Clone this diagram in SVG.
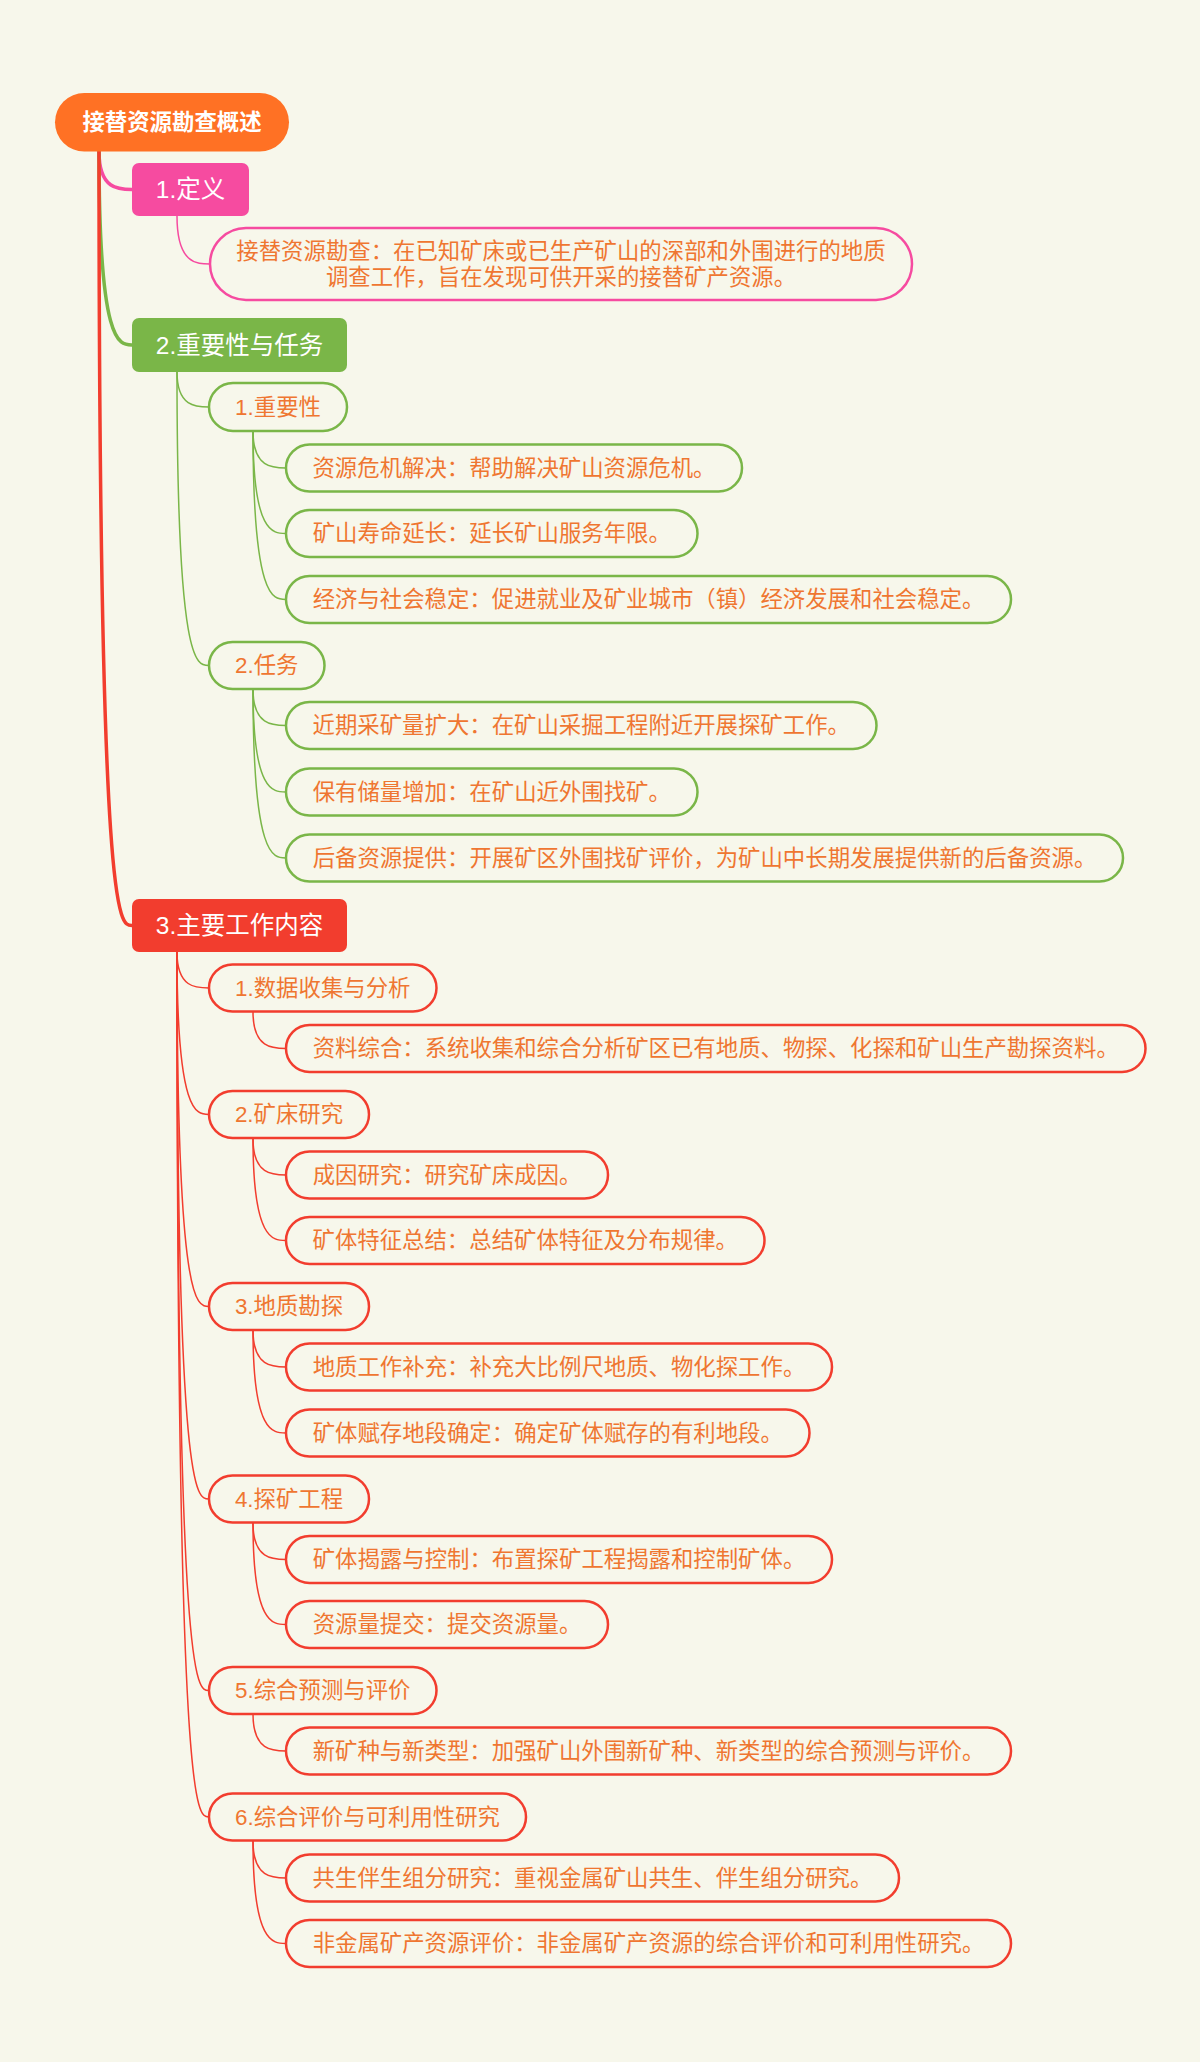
<svg xmlns="http://www.w3.org/2000/svg" width="1200" height="2062" viewBox="0 0 1200 2062">
<style>
text{font-family:"Liberation Sans","Noto Sans CJK SC",sans-serif;text-anchor:middle;dominant-baseline:central}
.root{font-size:22.4px;font-weight:bold;fill:#ffffff}
.l1t{font-size:24.5px;fill:#ffffff}
.t{font-size:22.4px;fill:#EF7631}
.pk{stroke:#F64BA0}
.gr{stroke:#7AB648}
.rd{stroke:#F23D2E}
.node{fill:#F7F7EB;stroke-width:2.5}
.thick{fill:none;stroke-width:3.5;stroke-linecap:round}
.thin{fill:none;stroke-width:1.5}
</style>
<rect x="0" y="0" width="1200" height="2062" fill="#F7F7EB"/>
<g id="connectors">
  <path class="thick pk" d="M99 151.5 C99 189.5 118.8 189.5 132 189.5"/>
  <path class="thick gr" d="M99 151.5 C99 345 118.8 345 132 345"/>
  <path class="thick rd" d="M99 151.5 C99 925.5 118.8 925.5 132 925.5"/>
  <path class="thin pk" d="M177 216 C177 264 196.8 264 210 264"/>
  <path class="thin gr" d="M177 372 C177 407 196.2 407 209 407"/>
  <path class="thin gr" d="M177 372 C177 665.5 196.2 665.5 209 665.5"/>
  <path class="thin gr" d="M253 431 C253 468 272.8 468 286 468"/>
  <path class="thin gr" d="M253 431 C253 533.5 272.8 533.5 286 533.5"/>
  <path class="thin gr" d="M253 431 C253 599.5 272.8 599.5 286 599.5"/>
  <path class="thin gr" d="M253 689 C253 725.5 272.8 725.5 286 725.5"/>
  <path class="thin gr" d="M253 689 C253 792 272.8 792 286 792"/>
  <path class="thin gr" d="M253 689 C253 858 272.8 858 286 858"/>
  <path class="thin rd" d="M177 952 C177 988 196.2 988 209 988"/>
  <path class="thin rd" d="M177 952 C177 1114.5 196.2 1114.5 209 1114.5"/>
  <path class="thin rd" d="M177 952 C177 1306.5 196.2 1306.5 209 1306.5"/>
  <path class="thin rd" d="M177 952 C177 1499 196.2 1499 209 1499"/>
  <path class="thin rd" d="M177 952 C177 1690.5 196.2 1690.5 209 1690.5"/>
  <path class="thin rd" d="M177 952 C177 1817 196.2 1817 209 1817"/>
  <path class="thin rd" d="M253 1012 C253 1048.5 272.8 1048.5 286 1048.5"/>
  <path class="thin rd" d="M253 1138.5 C253 1175 272.8 1175 286 1175"/>
  <path class="thin rd" d="M253 1138.5 C253 1240.5 272.8 1240.5 286 1240.5"/>
  <path class="thin rd" d="M253 1330 C253 1367 272.8 1367 286 1367"/>
  <path class="thin rd" d="M253 1330 C253 1433 272.8 1433 286 1433"/>
  <path class="thin rd" d="M253 1523 C253 1559.5 272.8 1559.5 286 1559.5"/>
  <path class="thin rd" d="M253 1523 C253 1624.5 272.8 1624.5 286 1624.5"/>
  <path class="thin rd" d="M253 1714 C253 1751 272.8 1751 286 1751"/>
  <path class="thin rd" d="M253 1841 C253 1878 272.8 1878 286 1878"/>
  <path class="thin rd" d="M253 1841 C253 1943.5 272.8 1943.5 286 1943.5"/>
</g>
<g id="root">
  <rect x="55" y="93" width="234" height="58.5" rx="29.25" fill="#FF7124"/>
  <text class="root" x="172" y="122.5">接替资源勘查概述</text>
</g>
<g id="n1">
  <rect x="132" y="163" width="117" height="53" rx="7" fill="#F64BA0"/>
  <text class="l1t" x="190.5" y="189.5">1.定义</text>
</g>
<g id="n1-def">
  <rect class="node pk" x="210" y="228" width="702" height="72" rx="36"/>
  <text class="t" x="561" y="251.5">接替资源勘查：在已知矿床或已生产矿山的深部和外围进行的地质</text>
  <text class="t" x="561" y="277">调查工作，旨在发现可供开采的接替矿产资源。</text>
</g>
<g id="n2">
  <rect x="132" y="318" width="215" height="54" rx="7" fill="#7AB648"/>
  <text class="l1t" x="239.5" y="345">2.重要性与任务</text>
</g>
<g id="n2-1">
  <rect class="node gr" x="209" y="383" width="138" height="48" rx="24"/>
  <text class="t" x="278" y="407">1.重要性</text>
</g>
<g id="n2-1-1">
  <rect class="node gr" x="286" y="444.5" width="456" height="47" rx="23.5"/>
  <text class="t" x="514" y="468">资源危机解决：帮助解决矿山资源危机。</text>
</g>
<g id="n2-1-2">
  <rect class="node gr" x="286" y="510" width="411.5" height="47" rx="23.5"/>
  <text class="t" x="491.75" y="533.5">矿山寿命延长：延长矿山服务年限。</text>
</g>
<g id="n2-1-3">
  <rect class="node gr" x="286" y="576" width="725" height="47" rx="23.5"/>
  <text class="t" x="648.5" y="599.5">经济与社会稳定：促进就业及矿业城市（镇）经济发展和社会稳定。</text>
</g>
<g id="n2-2">
  <rect class="node gr" x="209" y="642" width="115.5" height="47" rx="23.5"/>
  <text class="t" x="266.75" y="665.5">2.任务</text>
</g>
<g id="n2-2-1">
  <rect class="node gr" x="286" y="702" width="590.5" height="47" rx="23.5"/>
  <text class="t" x="581.25" y="725.5">近期采矿量扩大：在矿山采掘工程附近开展探矿工作。</text>
</g>
<g id="n2-2-2">
  <rect class="node gr" x="286" y="768.5" width="411.5" height="47" rx="23.5"/>
  <text class="t" x="491.75" y="792">保有储量增加：在矿山近外围找矿。</text>
</g>
<g id="n2-2-3">
  <rect class="node gr" x="286" y="834.5" width="837" height="47" rx="23.5"/>
  <text class="t" x="704.5" y="858">后备资源提供：开展矿区外围找矿评价，为矿山中长期发展提供新的后备资源。</text>
</g>
<g id="n3">
  <rect x="132" y="899" width="215" height="53" rx="7" fill="#F23D2E"/>
  <text class="l1t" x="239.5" y="925.5">3.主要工作内容</text>
</g>
<g id="n3-1">
  <rect class="node rd" x="209" y="964.5" width="227.5" height="47" rx="23.5"/>
  <text class="t" x="322.75" y="988">1.数据收集与分析</text>
</g>
<g id="n3-1-1">
  <rect class="node rd" x="286" y="1025" width="859.5" height="47" rx="23.5"/>
  <text class="t" x="715.75" y="1048.5">资料综合：系统收集和综合分析矿区已有地质、物探、化探和矿山生产勘探资料。</text>
</g>
<g id="n3-2">
  <rect class="node rd" x="209" y="1091" width="160" height="47" rx="23.5"/>
  <text class="t" x="289" y="1114.5">2.矿床研究</text>
</g>
<g id="n3-2-1">
  <rect class="node rd" x="286" y="1151.5" width="322" height="47" rx="23.5"/>
  <text class="t" x="447" y="1175">成因研究：研究矿床成因。</text>
</g>
<g id="n3-2-2">
  <rect class="node rd" x="286" y="1217" width="478.5" height="47" rx="23.5"/>
  <text class="t" x="525.25" y="1240.5">矿体特征总结：总结矿体特征及分布规律。</text>
</g>
<g id="n3-3">
  <rect class="node rd" x="209" y="1283" width="160" height="47" rx="23.5"/>
  <text class="t" x="289" y="1306.5">3.地质勘探</text>
</g>
<g id="n3-3-1">
  <rect class="node rd" x="286" y="1343.5" width="546" height="47" rx="23.5"/>
  <text class="t" x="559" y="1367">地质工作补充：补充大比例尺地质、物化探工作。</text>
</g>
<g id="n3-3-2">
  <rect class="node rd" x="286" y="1409.5" width="523.5" height="47" rx="23.5"/>
  <text class="t" x="547.75" y="1433">矿体赋存地段确定：确定矿体赋存的有利地段。</text>
</g>
<g id="n3-4">
  <rect class="node rd" x="209" y="1475.5" width="160" height="47" rx="23.5"/>
  <text class="t" x="289" y="1499">4.探矿工程</text>
</g>
<g id="n3-4-1">
  <rect class="node rd" x="286" y="1536" width="546" height="47" rx="23.5"/>
  <text class="t" x="559" y="1559.5">矿体揭露与控制：布置探矿工程揭露和控制矿体。</text>
</g>
<g id="n3-4-2">
  <rect class="node rd" x="286" y="1601" width="322" height="47" rx="23.5"/>
  <text class="t" x="447" y="1624.5">资源量提交：提交资源量。</text>
</g>
<g id="n3-5">
  <rect class="node rd" x="209" y="1667" width="227.5" height="47" rx="23.5"/>
  <text class="t" x="322.75" y="1690.5">5.综合预测与评价</text>
</g>
<g id="n3-5-1">
  <rect class="node rd" x="286" y="1727.5" width="725" height="47" rx="23.5"/>
  <text class="t" x="648.5" y="1751">新矿种与新类型：加强矿山外围新矿种、新类型的综合预测与评价。</text>
</g>
<g id="n3-6">
  <rect class="node rd" x="209" y="1793.5" width="317" height="47" rx="23.5"/>
  <text class="t" x="367.5" y="1817">6.综合评价与可利用性研究</text>
</g>
<g id="n3-6-1">
  <rect class="node rd" x="286" y="1854.5" width="613" height="47" rx="23.5"/>
  <text class="t" x="592.5" y="1878">共生伴生组分研究：重视金属矿山共生、伴生组分研究。</text>
</g>
<g id="n3-6-2">
  <rect class="node rd" x="286" y="1920" width="725" height="47" rx="23.5"/>
  <text class="t" x="648.5" y="1943.5">非金属矿产资源评价：非金属矿产资源的综合评价和可利用性研究。</text>
</g>
</svg>
